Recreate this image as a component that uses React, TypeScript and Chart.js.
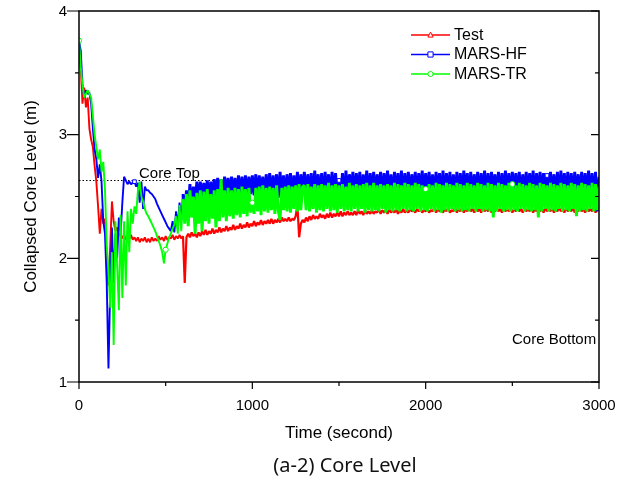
import React, { useEffect, useRef } from 'react';
import { Chart, registerables } from 'chart.js';

Chart.register(...registerables);

// ---------- data ----------
const TIME_STEP = 10; // seconds between samples (t = 0 .. 3000)
const xMajorTicks = [0, 1000, 2000, 3000];
const xMinorTicks = [500, 1500, 2500];
const yMajorTicks = [1, 2, 3, 4];
const yMinorTicks = [1.5, 2.5, 3.5];
const CORE_TOP = 2.63;
const seriesNames = ['Test', 'MARS-HF', 'MARS-TR'];
const seriesColors = ['#ff0000', '#0000ff', '#00ff00'];

// Test (red)
const testLevel = [
  3.70, 3.55, 3.25, 3.38, 3.22, 3.30, 3.05, 2.96, 2.90, 2.75,
  2.62, 2.42, 2.20, 2.40, 2.28, 2.32, 2.00, 1.78, 2.10, 2.46,
  2.30, 2.22, 2.25, 2.18, 2.20, 2.16, 2.19, 2.15, 2.18, 2.16,
  2.19, 2.15, 2.17, 2.14, 2.17, 2.13, 2.16, 2.14, 2.17, 2.13,
  2.16, 2.13, 2.17, 2.14, 2.16, 2.14, 2.18, 2.15, 2.17, 2.14,
  2.18, 2.15, 2.17, 2.16, 2.19, 2.15, 2.18, 2.16, 2.19, 2.16,
  2.18, 1.80, 2.17, 2.20, 2.17, 2.21, 2.18, 2.20, 2.17, 2.21,
  2.18, 2.22, 2.19, 2.23, 2.19, 2.22, 2.20, 2.24, 2.20, 2.23,
  2.21, 2.25, 2.21, 2.24, 2.22, 2.26, 2.22, 2.25, 2.23, 2.27,
  2.23, 2.26, 2.24, 2.28, 2.24, 2.27, 2.25, 2.29, 2.25, 2.28,
  2.26, 2.30, 2.26, 2.29, 2.27, 2.31, 2.27, 2.30, 2.28, 2.31,
  2.28, 2.32, 2.28, 2.31, 2.29, 2.32, 2.29, 2.33, 2.30, 2.32,
  2.30, 2.33, 2.30, 2.32, 2.31, 2.34, 2.43, 2.17, 2.28, 2.31,
  2.29, 2.33, 2.30, 2.34, 2.31, 2.35, 2.32, 2.34, 2.32, 2.36,
  2.33, 2.35, 2.32, 2.36, 2.33, 2.37, 2.33, 2.36, 2.34, 2.37,
  2.34, 2.38, 2.34, 2.37, 2.35, 2.38, 2.35, 2.37, 2.35, 2.38,
  2.35, 2.39, 2.36, 2.38, 2.35, 2.39, 2.36, 2.38, 2.36, 2.39,
  2.36, 2.38, 2.37, 2.40, 2.36, 2.39, 2.37, 2.39, 2.36, 2.40,
  2.37, 2.39, 2.37, 2.40, 2.36, 2.39, 2.37, 2.40, 2.37, 2.39,
  2.37, 2.40, 2.38, 2.39, 2.37, 2.40, 2.38, 2.40, 2.37, 2.39,
  2.38, 2.40, 2.37, 2.39, 2.38, 2.41, 2.37, 2.40, 2.38, 2.39,
  2.37, 2.40, 2.38, 2.41, 2.37, 2.39, 2.38, 2.41, 2.37, 2.40,
  2.38, 2.41, 2.37, 2.40, 2.38, 2.41, 2.38, 2.40, 2.37, 2.41,
  2.38, 2.40, 2.37, 2.41, 2.38, 2.40, 2.38, 2.41, 2.37, 2.40,
  2.38, 2.41, 2.38, 2.40, 2.37, 2.41, 2.38, 2.40, 2.38, 2.41,
  2.37, 2.40, 2.38, 2.41, 2.38, 2.40, 2.37, 2.41, 2.38, 2.40,
  2.38, 2.41, 2.37, 2.40, 2.38, 2.42, 2.38, 2.40, 2.37, 2.41,
  2.38, 2.40, 2.38, 2.41, 2.37, 2.40, 2.38, 2.41, 2.38, 2.40,
  2.37, 2.41, 2.38, 2.40, 2.38, 2.41, 2.37, 2.40, 2.38, 2.42,
  2.38, 2.40, 2.37, 2.41, 2.38, 2.40, 2.38, 2.41, 2.37, 2.40,
  2.39,
];

// MARS-HF (blue)
const hfLevel = [
  3.76, 3.68, 3.40, 3.30, 3.36, 3.33, 3.34, 3.25, 3.05, 2.88,
  2.80, 2.65, 2.76, 2.62, 2.30, 2.20, 1.80, 1.11, 1.75, 2.25,
  1.80, 2.20, 2.00, 2.33, 2.20, 2.45, 2.66, 2.63, 2.60, 2.62,
  2.60, 2.61, 2.62, 2.58, 2.61, 2.45, 2.62, 2.40, 2.58, 2.55,
  2.55, 2.53, 2.52, 2.50, 2.48, 2.44, 2.41, 2.38, 2.35, 2.32,
  2.29, 2.26, 2.24, 2.22, 2.30, 2.21, 2.38, 2.25, 2.45, 2.30,
  2.52, 2.35, 2.55, 2.40, 2.60, 2.42, 2.58, 2.45, 2.62, 2.47,
  2.62, 2.48, 2.61, 2.50, 2.63, 2.48, 2.62, 2.50, 2.64, 2.49,
  2.65, 2.50, 2.64, 2.48, 2.66, 2.50, 2.65, 2.49, 2.66, 2.51,
  2.65, 2.50, 2.67, 2.49, 2.66, 2.51, 2.67, 2.50, 2.66, 2.52,
  2.67, 2.51, 2.68, 2.50, 2.67, 2.52, 2.66, 2.50, 2.68, 2.51,
  2.69, 2.50, 2.67, 2.52, 2.68, 2.49, 2.70, 2.51, 2.67, 2.50,
  2.68, 2.52, 2.69, 2.50, 2.67, 2.51, 2.70, 2.49, 2.68, 2.52,
  2.70, 2.50, 2.68, 2.51, 2.69, 2.49, 2.71, 2.52, 2.68, 2.50,
  2.69, 2.49, 2.70, 2.51, 2.68, 2.48, 2.70, 2.52, 2.69, 2.50,
  2.63, 2.51, 2.69, 2.49, 2.71, 2.50, 2.68, 2.52, 2.70, 2.49,
  2.69, 2.51, 2.70, 2.48, 2.68, 2.50, 2.71, 2.49, 2.69, 2.52,
  2.70, 2.50, 2.68, 2.51, 2.70, 2.49, 2.69, 2.52, 2.71, 2.50,
  2.68, 2.49, 2.70, 2.51, 2.69, 2.50, 2.71, 2.48, 2.69, 2.51,
  2.70, 2.50, 2.68, 2.52, 2.70, 2.49, 2.69, 2.51, 2.71, 2.50,
  2.69, 2.51, 2.70, 2.49, 2.68, 2.50, 2.70, 2.52, 2.69, 2.49,
  2.71, 2.50, 2.69, 2.51, 2.70, 2.48, 2.68, 2.50, 2.70, 2.51,
  2.69, 2.49, 2.71, 2.52, 2.69, 2.50, 2.70, 2.49, 2.68, 2.51,
  2.70, 2.50, 2.69, 2.51, 2.71, 2.49, 2.69, 2.50, 2.70, 2.52,
  2.68, 2.50, 2.70, 2.49, 2.69, 2.51, 2.71, 2.50, 2.69, 2.49,
  2.70, 2.52, 2.69, 2.50, 2.70, 2.49, 2.68, 2.51, 2.70, 2.50,
  2.69, 2.51, 2.71, 2.49, 2.69, 2.50, 2.70, 2.52, 2.69, 2.50,
  2.67, 2.49, 2.70, 2.51, 2.68, 2.50, 2.70, 2.49, 2.71, 2.51,
  2.69, 2.50, 2.70, 2.52, 2.69, 2.49, 2.70, 2.51, 2.68, 2.50,
  2.70, 2.51, 2.69, 2.50, 2.71, 2.49, 2.69, 2.50, 2.70, 2.38,
  2.66,
];

// MARS-TR (green)
const trLevel = [
  3.76, 3.55, 3.40, 3.30, 3.33, 3.36, 3.33, 3.30, 3.15, 3.00,
  2.90, 2.80, 2.88, 2.70, 2.78, 2.55, 2.10, 1.90, 1.60, 2.05,
  1.30, 2.30, 1.95, 1.58, 2.35, 1.68, 2.30, 1.78, 2.38, 2.05,
  2.40, 2.28, 2.42, 2.36, 2.55, 2.62, 2.50, 2.46, 2.40, 2.36,
  2.34, 2.31, 2.28, 2.25, 2.22, 2.18, 2.14, 2.10, 2.05, 1.96,
  2.07, 2.12, 2.17, 2.20, 2.24, 2.27, 2.34, 2.20, 2.43, 2.22,
  2.48, 2.28, 2.52, 2.26, 2.55, 2.33, 2.50, 2.20, 2.53, 2.28,
  2.55, 2.22, 2.54, 2.30, 2.56, 2.28, 2.52, 2.32, 2.55, 2.25,
  2.56, 2.30, 2.64, 2.33, 2.55, 2.30, 2.57, 2.34, 2.55, 2.32,
  2.57, 2.35, 2.56, 2.33, 2.58, 2.36, 2.56, 2.34, 2.57, 2.37,
  2.45, 2.36, 2.57, 2.38, 2.58, 2.35, 2.59, 2.38, 2.57, 2.37,
  2.58, 2.39, 2.57, 2.36, 2.59, 2.38, 2.31, 2.57, 2.39, 2.58,
  2.38, 2.59, 2.37, 2.58, 2.40, 2.59, 2.38, 2.60, 2.39, 2.58,
  2.59, 2.39, 2.60, 2.38, 2.58, 2.40, 2.60, 2.37, 2.59, 2.39,
  2.60, 2.38, 2.59, 2.40, 2.61, 2.38, 2.59, 2.39, 2.60, 2.37,
  2.59, 2.40, 2.60, 2.38, 2.58, 2.39, 2.61, 2.38, 2.59, 2.40,
  2.60, 2.38, 2.59, 2.40, 2.60, 2.37, 2.61, 2.39, 2.59, 2.38,
  2.61, 2.39, 2.59, 2.38, 2.60, 2.40, 2.59, 2.37, 2.60, 2.39,
  2.59, 2.38, 2.61, 2.39, 2.60, 2.38, 2.59, 2.40, 2.61, 2.38,
  2.60, 2.39, 2.59, 2.38, 2.61, 2.40, 2.60, 2.38, 2.59, 2.39,
  2.56, 2.38, 2.60, 2.40, 2.59, 2.38, 2.61, 2.39, 2.60, 2.37,
  2.59, 2.39, 2.61, 2.38, 2.60, 2.40, 2.59, 2.38, 2.61, 2.39,
  2.60, 2.38, 2.59, 2.39, 2.61, 2.38, 2.60, 2.40, 2.59, 2.38,
  2.61, 2.40, 2.60, 2.38, 2.59, 2.39, 2.61, 2.38, 2.60, 2.33,
  2.59, 2.38, 2.61, 2.40, 2.60, 2.38, 2.59, 2.39, 2.61, 2.38,
  2.60, 2.39, 2.59, 2.38, 2.61, 2.40, 2.60, 2.38, 2.59, 2.39,
  2.61, 2.38, 2.60, 2.39, 2.59, 2.33, 2.61, 2.38, 2.60, 2.40,
  2.59, 2.38, 2.61, 2.39, 2.60, 2.38, 2.59, 2.40, 2.61, 2.38,
  2.60, 2.39, 2.59, 2.38, 2.61, 2.40, 2.60, 2.34, 2.59, 2.38,
  2.61, 2.39, 2.60, 2.38, 2.59, 2.40, 2.61, 2.38, 2.60, 2.39,
  2.58,
];

// times (s) where the open symbols are drawn
const testMarkerTimes: number[] = [];
const hfMarkerTimes = [320, 1500, 2700];
const trMarkerTimes = [0, 500, 1000, 2000, 2500];

const FONT = '"Liberation Sans", Arial, sans-serif';

function toPoints(values: number[]) {
  return values.map((v, i) => ({ x: i * TIME_STEP, y: v }));
}

function drawMarker(ctx: CanvasRenderingContext2D, style: string, x: number, y: number, r: number, color: string) {
  ctx.save();
  ctx.fillStyle = '#ffffff';
  ctx.strokeStyle = color;
  ctx.lineWidth = 1;
  ctx.beginPath();
  if (style === 'triangle') {
    ctx.moveTo(x, y - r * 1.1);
    ctx.lineTo(x + r, y + r * 0.8);
    ctx.lineTo(x - r, y + r * 0.8);
    ctx.closePath();
  } else if (style === 'rect') {
    ctx.rect(x - r, y - r, r * 2, r * 2);
  } else {
    ctx.arc(x, y, r, 0, Math.PI * 2);
  }
  ctx.fill();
  ctx.stroke();
  ctx.restore();
}

const decorPlugin = {
  id: 'decor',
  beforeDatasetsDraw(chart: any) {
    const { ctx, scales } = chart;
    const x = scales.x, y = scales.y;
    ctx.save();
    ctx.strokeStyle = '#000';
    ctx.lineWidth = 1;
    ctx.setLineDash([1.5, 2]);
    const py = Math.round(y.getPixelForValue(CORE_TOP)) + 0.5;
    ctx.beginPath();
    ctx.moveTo(x.getPixelForValue(0), py);
    ctx.lineTo(x.getPixelForValue(3000), py);
    ctx.stroke();
    ctx.restore();
  },
  afterDraw(chart: any) {
    const { ctx, chartArea: a, scales } = chart;
    const xs = scales.x, ys = scales.y;
    ctx.save();
    // frame
    ctx.strokeStyle = '#000';
    ctx.lineWidth = 1.5;
    ctx.setLineDash([]);
    ctx.strokeRect(a.left, a.top, a.right - a.left, a.bottom - a.top);

    ctx.lineWidth = 1.2;
    ctx.beginPath();
    const tickX = (v: number, len: number) => {
      const px = xs.getPixelForValue(v);
      ctx.moveTo(px, a.bottom);
      ctx.lineTo(px, a.bottom + len);
    };
    xMajorTicks.forEach(v => tickX(v, 7));
    xMinorTicks.forEach(v => tickX(v, 4));
    const tickY = (v: number, len: number, rlen: number) => {
      const py = ys.getPixelForValue(v);
      ctx.moveTo(a.left, py);
      ctx.lineTo(a.left - len, py);
      ctx.moveTo(a.right, py);
      ctx.lineTo(a.right - rlen, py);
    };
    yMajorTicks.forEach(v => tickY(v, 12, 8));
    yMinorTicks.forEach(v => tickY(v, 4, 4));
    ctx.stroke();

    // tick labels
    ctx.fillStyle = '#000';
    ctx.font = `15px ${FONT}`;
    ctx.textAlign = 'center';
    ctx.textBaseline = 'middle';
    xMajorTicks.forEach(v => ctx.fillText(String(v), xs.getPixelForValue(v), 406));
    ctx.textAlign = 'right';
    yMajorTicks.forEach(v => ctx.fillText(String(v), 67, ys.getPixelForValue(v) + 0.5));

    // axis titles
    ctx.font = `17px ${FONT}`;
    ctx.textAlign = 'center';
    ctx.fillText('Time (second)', (a.left + a.right) / 2, 433);
    ctx.save();
    ctx.translate(31, (a.top + a.bottom) / 2);
    ctx.rotate(-Math.PI / 2);
    ctx.fillText('Collapsed Core Level (m)', 0, 0);
    ctx.restore();

    // caption
    ctx.font = `20px "Noto Sans", "Noto Sans CJK KR", sans-serif`;
    ctx.fillStyle = '#111';
    ctx.fillText('(a-2) Core Level', 345, 466);

    // annotations
    ctx.fillStyle = '#000';
    ctx.font = `15px ${FONT}`;
    ctx.textAlign = 'left';
    ctx.fillText('Core Top', 139, 174);
    ctx.fillText('Core Bottom', 512, 340);

    // legend
    const styles = ['triangle', 'rect', 'circle'];
    const rows = [35, 54.5, 74];
    ctx.font = `16px ${FONT}`;
    seriesNames.forEach((name, i) => {
      const yy = rows[i];
      ctx.strokeStyle = seriesColors[i];
      ctx.lineWidth = 1.5;
      ctx.beginPath();
      ctx.moveTo(411, yy);
      ctx.lineTo(450, yy);
      ctx.stroke();
      drawMarker(ctx, styles[i], 430.5, yy, 2.6, seriesColors[i]);
      ctx.fillStyle = '#000';
      ctx.fillText(name, 454, yy + 0.5);
    });
    ctx.restore();
  },
};

function markerRadius(times: number[]) {
  const set = new Set(times);
  return (c: any) => (c.raw && set.has(c.raw.x) ? 2.6 : 0);
}

export default function App() {
  const ref = useRef<HTMLCanvasElement>(null);
  useEffect(() => {
    if (!ref.current) return;
    const mk = (label: string, values: number[], color: string, style: string, times: number[], order: number, width: number, bandWidth: number) => ({
      label,
      data: toPoints(values),
      borderColor: color,
      backgroundColor: '#ffffff',
      borderWidth: width,
      borderJoinStyle: 'bevel',
      segment: {
        borderWidth: (s: any) => (s.p0.parsed.x >= 600 ? bandWidth : width),
      },
      pointStyle: style,
      pointRadius: markerRadius(times),
      pointBorderWidth: 1,
      pointBorderColor: color,
      pointBackgroundColor: '#ffffff',
      tension: 0,
      order,
    });
    const chart = new Chart(ref.current, {
      type: 'line',
      data: {
        datasets: [
          mk(seriesNames[0], testLevel, seriesColors[0], 'triangle', testMarkerTimes, 2, 1.9, 2.2),
          mk(seriesNames[1], hfLevel, seriesColors[1], 'rect', hfMarkerTimes, 1, 1.9, 2.9),
          mk(seriesNames[2], trLevel, seriesColors[2], 'circle', trMarkerTimes, 0, 1.9, 2.9),
        ] as any,
      },
      options: {
        animation: false,
        responsive: false,
        devicePixelRatio: 1,
        layout: { padding: { left: 79, right: 19, top: 11, bottom: 96 } },
        plugins: { legend: { display: false }, tooltip: { enabled: false }, title: { display: false } },
        events: [],
        scales: {
          x: { type: 'linear', min: 0, max: 3000, display: false },
          y: { type: 'linear', min: 1, max: 4, display: false },
        },
      },
      plugins: [decorPlugin],
    });
    return () => chart.destroy();
  }, []);
  return (
    <div style={{ position: 'fixed', left: 0, top: 0, width: 618, height: 478, background: '#fff' }}>
      <canvas ref={ref} width={618} height={478} style={{ display: 'block', width: 618, height: 478 }} />
    </div>
  );
}
